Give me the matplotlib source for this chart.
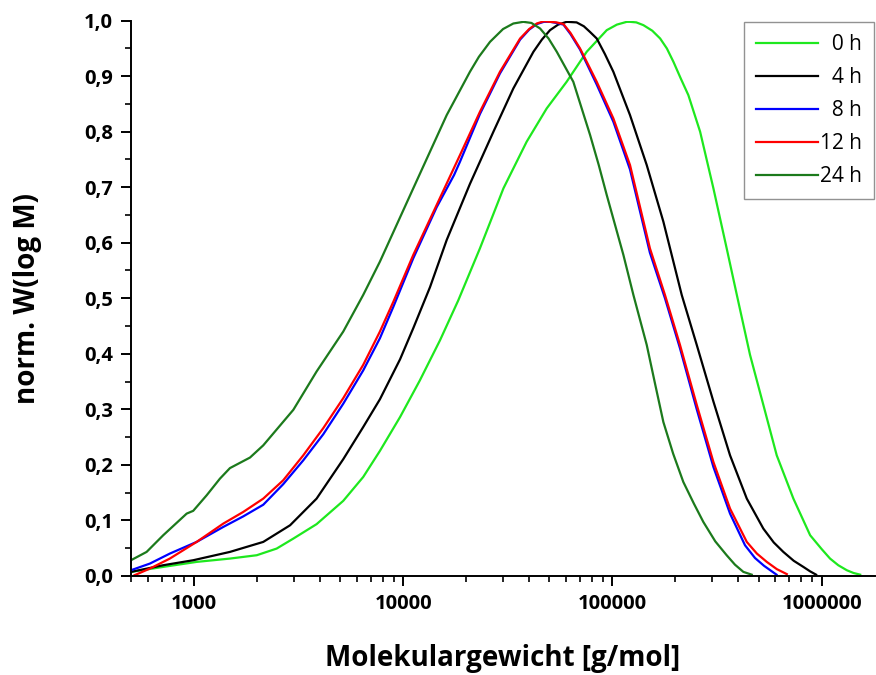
import matplotlib
matplotlib.use('Agg')
import matplotlib.pyplot as plt
from matplotlib.ticker import FuncFormatter, MultipleLocator, LogLocator, NullFormatter

plt.rcParams['font.family'] = ['Open Sans', 'DejaVu Sans']

# Werte (Molmasse in g/mol, normiertes W(log M))
m_0h = [500, 713, 1030, 1486, 1995, 2484, 2985, 3855, 5170, 6440, 7740, 9660, 12010, 14980, 18320,
        23270, 30130, 38900, 48500, 60400, 75300, 93900, 105000, 117000, 121300, 130000, 140600,
        155000, 169000, 182000, 195600, 212000, 230500, 262400, 303700, 351400, 393000, 454400,
        526000, 609600, 732300, 880600, 1000000, 1096000, 1200000, 1318000, 1420000, 1527000]
w_0h = [0.007, 0.016, 0.025, 0.031, 0.037, 0.049, 0.067, 0.093, 0.135, 0.178, 0.225, 0.286, 0.352,
        0.424, 0.496, 0.59, 0.698, 0.782, 0.842, 0.89, 0.944, 0.983, 0.993, 0.998, 0.998, 0.997,
        0.992, 0.982, 0.968, 0.95, 0.926, 0.896, 0.866, 0.8, 0.698, 0.59, 0.506, 0.398,
        0.308, 0.217, 0.139, 0.073, 0.048, 0.031, 0.019, 0.01, 0.005, 0.002]

m_4h = [500, 713, 992, 1486, 2144, 2880, 3855, 5170, 6440, 7740, 9660, 11170, 13430, 16140,
        20840, 26980, 33600, 41900, 46000, 50300, 55000, 60400, 67400, 73000, 78000, 84100,
        92000, 101000, 121300, 145800, 175100, 214300, 252800, 303700, 364700, 438500, 526000,
        590000, 655600, 735000, 817000, 880000, 940000]
w_4h = [0.007, 0.019, 0.028, 0.043, 0.061, 0.091, 0.139, 0.21, 0.268, 0.318, 0.39, 0.446, 0.52,
        0.605, 0.706, 0.8, 0.878, 0.944, 0.966, 0.983, 0.993, 0.998, 0.997, 0.99, 0.98, 0.968,
        0.94, 0.908, 0.83, 0.74, 0.638, 0.506, 0.416, 0.314, 0.217, 0.139, 0.085,
        0.06, 0.043, 0.027, 0.016, 0.008, 0.002]

m_8h = [500, 616, 767, 1030, 1381, 1720, 2144, 2670, 3330, 4150, 5170, 6440, 7740, 8980, 11170,
        14450, 17500, 18680, 23270, 29000, 36200, 40000, 43500, 47000, 50300, 54000, 58300,
        63000, 70000, 84100, 101000, 121300, 151000, 178200, 210200, 252800, 303700, 364700,
        430000, 480000, 530000, 608000]
w_8h = [0.01, 0.022, 0.04, 0.061, 0.088, 0.107, 0.128, 0.165, 0.208, 0.255, 0.31, 0.37, 0.428,
        0.485, 0.572, 0.664, 0.722, 0.746, 0.832, 0.905, 0.966, 0.984, 0.994, 0.998, 0.998, 0.996,
        0.993, 0.976, 0.948, 0.885, 0.818, 0.732, 0.582, 0.5, 0.41, 0.3, 0.196, 0.112,
        0.055, 0.032, 0.018, 0.002]

m_12h = [520, 616, 767, 1030, 1381, 1720, 2144, 2670, 3330, 4150, 5170, 6440, 7740, 8980, 11170,
         14450, 18680, 23270, 29000, 36200, 40000, 43500, 47000, 50300, 54000, 58300, 63000,
         70000, 84100, 101000, 121300, 151000, 178200, 210200, 252800, 303700, 364700, 438500,
         490000, 546500, 610000, 681000]
w_12h = [0.001, 0.013, 0.031, 0.061, 0.094, 0.115, 0.139, 0.172, 0.217, 0.266, 0.32, 0.38, 0.44,
         0.494, 0.578, 0.668, 0.758, 0.836, 0.908, 0.968, 0.985, 0.995, 0.999, 0.998, 0.997,
         0.994, 0.978, 0.95, 0.89, 0.824, 0.74, 0.59, 0.506, 0.416, 0.308, 0.205, 0.121, 0.061,
         0.04, 0.025, 0.012, 0.003]

m_24h = [500, 594, 713, 923, 992, 1150, 1331, 1486, 1853, 2144, 2985, 3855, 5170, 6440, 7740,
         11170, 16140, 20840, 23000, 26000, 30000, 33600, 37500, 41000, 45100, 49500, 54200,
         65000, 78200, 86000, 93900, 112800, 125900, 145800, 160000, 175100, 195000, 218100,
         245000, 271800, 310000, 351400, 385000, 422300, 463000]
w_24h = [0.028, 0.043, 0.073, 0.112, 0.117, 0.145, 0.175, 0.194, 0.213, 0.235, 0.299, 0.368, 0.44,
         0.506, 0.566, 0.698, 0.83, 0.908, 0.935, 0.962, 0.985, 0.995, 0.998, 0.996, 0.986,
         0.968, 0.944, 0.89, 0.794, 0.74, 0.686, 0.578, 0.506, 0.416, 0.345, 0.277, 0.22,
         0.169, 0.13, 0.097, 0.062, 0.037, 0.02, 0.007, 0.002]

serien = [
    ('\u20070 h', m_0h, w_0h, '#1ee81e'),
    ('\u20074 h', m_4h, w_4h, '#000000'),
    ('\u20078 h', m_8h, w_8h, '#0000ff'),
    ('12 h', m_12h, w_12h, '#ff0000'),
    ('24 h', m_24h, w_24h, '#1c7a1c'),
]

fig = plt.figure(figsize=(8.76, 6.75), dpi=100)
ax = fig.add_axes([0.1495, 0.147, 0.8495, 0.8223])

for label, m, w, farbe in serien:
    ax.plot(m, w, color=farbe, lw=1.6, label=label)

ax.set_xscale('log')
ax.set_xlim(500, 1.8e6)
ax.set_ylim(0, 1.0)

ax.spines['top'].set_visible(False)
ax.spines['right'].set_visible(False)
for s in ('left', 'bottom'):
    ax.spines[s].set_linewidth(1.4)

ax.yaxis.set_major_locator(MultipleLocator(0.1))
ax.yaxis.set_minor_locator(MultipleLocator(0.05))
ax.yaxis.set_major_formatter(FuncFormatter(lambda v, p: f'{v:.1f}'.replace('.', ',')))
ax.xaxis.set_major_locator(LogLocator(base=10, numticks=10))
ax.xaxis.set_minor_locator(LogLocator(base=10, subs=range(2, 10), numticks=20))
ax.xaxis.set_minor_formatter(NullFormatter())
ax.xaxis.set_major_formatter(FuncFormatter(lambda v, p: f'{v:.0f}'))

ax.tick_params(which='major', direction='out', length=7, width=1.4, labelsize=14.5, pad=6)
ax.tick_params(which='minor', direction='out', length=4, width=1.2)
for t in ax.get_xticklabels() + ax.get_yticklabels():
    t.set_fontweight('bold')

ax.set_xlabel('Molekulargewicht [g/mol]', fontsize=20, fontweight='bold', labelpad=22)
ax.set_ylabel('norm. W(log M)', fontsize=20, fontweight='bold', labelpad=30)

leg = ax.legend(loc='upper right', bbox_to_anchor=(0.998, 0.997), fontsize=15, frameon=True,
                fancybox=False, edgecolor='#777777', handlelength=3.0, handletextpad=0.1,
                labelspacing=0.58, borderpad=0.55, borderaxespad=0.0)
leg.get_frame().set_linewidth(1.0)

fig.savefig('out.png', dpi=100)
